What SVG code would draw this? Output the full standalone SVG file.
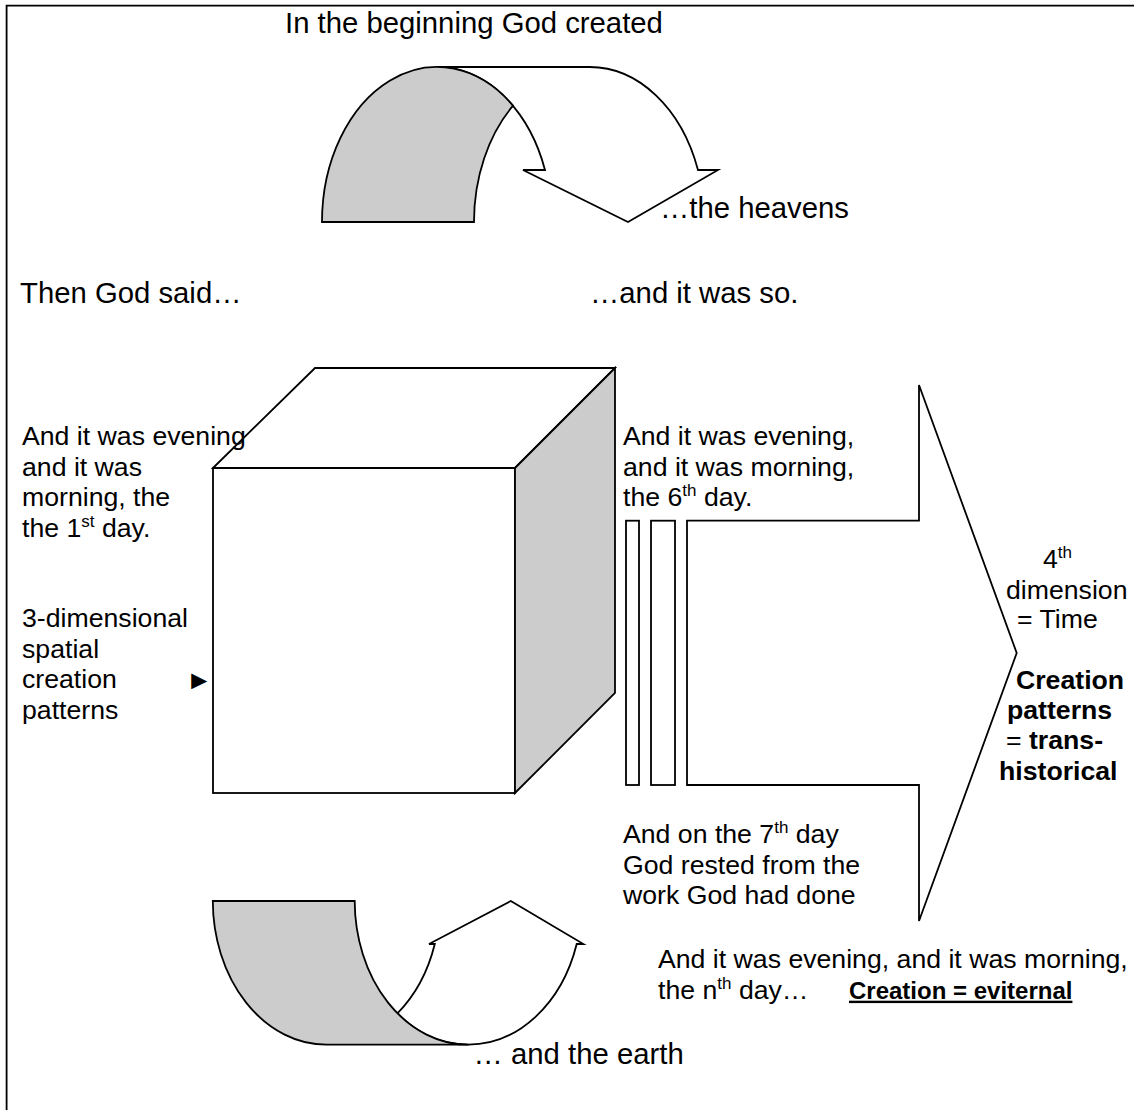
<svg xmlns="http://www.w3.org/2000/svg" width="1134" height="1110" viewBox="0 0 1134 1110">
<style>
text{font-family:"Liberation Sans",Arial,sans-serif;font-size:26.67px;fill:#000}
.h{font-size:29.3px}
.b{font-weight:bold}
.sup{font-size:17px}
.shape{stroke:#000;stroke-width:1.8;stroke-linejoin:miter}
.w{fill:#fff}
.g{fill:#cccccc}
</style>
<rect x="0" y="0" width="1134" height="1110" fill="#fff"/>
<path d="M6.6,1110 V5.7 H1134" fill="none" stroke="#000" stroke-width="1.8"/>

<g id="heading">
<text class="h" x="285" y="33">In the beginning God created</text>
</g>

<g id="top-arrow">
<path class="shape w" d="M437,67 H589 A115,155 0 0 1 698,170 H718 L628,222 L523,170 H545 A115,155 0 0 0 437,67 Z"/>
<path class="shape g" d="M322,222 A115,155 0 0 1 513,105.7 A115,155 0 0 0 474,222 Z"/>
</g>
<g id="heavens"><text class="h" x="660" y="218">…the heavens</text></g>

<g id="then"><text class="h" x="20" y="303">Then God said…</text></g>
<g id="so"><text class="h" x="590" y="303">…and it was so.</text></g>

<g id="cube">
<rect class="shape w" x="213" y="468" width="302" height="325"/>
<path class="shape w" d="M213,468 L315,368 H615 L515,468 Z"/>
<path class="shape g" d="M515,468 L615,368 V693 L515,793 Z"/>
</g>

<g id="day1">
<text x="22" y="445">And it was evening</text>
<text x="22" y="475.7">and it was</text>
<text x="22" y="506.3">morning, the</text>
<text x="22" y="537">the 1<tspan class="sup" dy="-10">st</tspan><tspan dy="10"> day.</tspan></text>
</g>

<g id="spatial">
<text x="22" y="627">3-dimensional</text>
<text x="22" y="657.7">spatial</text>
<text x="22" y="688.3">creation</text>
<text x="22" y="719">patterns</text>
<text x="186" y="689">►</text>
</g>

<g id="day6">
<text x="623" y="445">And it was evening,</text>
<text x="623" y="475.7">and it was morning,</text>
<text x="623" y="506.3">the 6<tspan class="sup" dy="-10">th</tspan><tspan dy="10"> day.</tspan></text>
</g>

<g id="bars">
<rect class="shape w" x="626" y="520.7" width="13" height="264.3"/>
<rect class="shape w" x="651" y="520.7" width="24" height="264.3"/>
</g>

<g id="time-arrow">
<path class="shape w" d="M687,520.7 H919 V385 L1016.7,653 L919,921 V785 H687 Z"/>
</g>

<g id="time-label">
<text x="1043" y="568">4<tspan class="sup" dy="-10">th</tspan></text>
<text x="1006" y="599">dimension</text>
<text x="1017" y="628">= Time</text>
<text class="b" x="1016" y="689">Creation</text>
<text class="b" x="1007" y="719">patterns</text>
<text x="1006" y="749">= <tspan class="b">trans-</tspan></text>
<text class="b" x="999" y="780">historical</text>
</g>

<g id="day7">
<text x="623" y="843">And on the 7<tspan class="sup" dy="-10">th</tspan><tspan dy="10"> day</tspan></text>
<text x="623" y="873.7">God rested from the</text>
<text x="623" y="904.3">work God had done</text>
</g>

<g id="bottom-arrow">
<path class="shape w" d="M434.8,944 A113.6,144 0 0 1 397.4,1013.4 A113.6,144 0 0 0 468.3,1044.7 A113.6,144 0 0 0 576.7,944 L583.4,944 L510.8,901 L429,944 Z"/>
<path class="shape g" d="M212.8,901 H354.7 A113.6,144 0 0 0 468.3,1044.7 H326.4 A113.6,144 0 0 1 212.8,901 Z"/>
</g>
<g id="earth"><text class="h" x="473.6" y="1064">… and the earth</text></g>

<g id="dayn">
<text x="658" y="968">And it was evening, and it was morning,</text>
<text x="658" y="998.7">the n<tspan class="sup" dy="-10">th</tspan><tspan dy="10"> day…  </tspan><tspan class="b" x="849" style="font-size:24px" text-decoration="underline">Creation = eviternal</tspan></text>
</g>
</svg>
